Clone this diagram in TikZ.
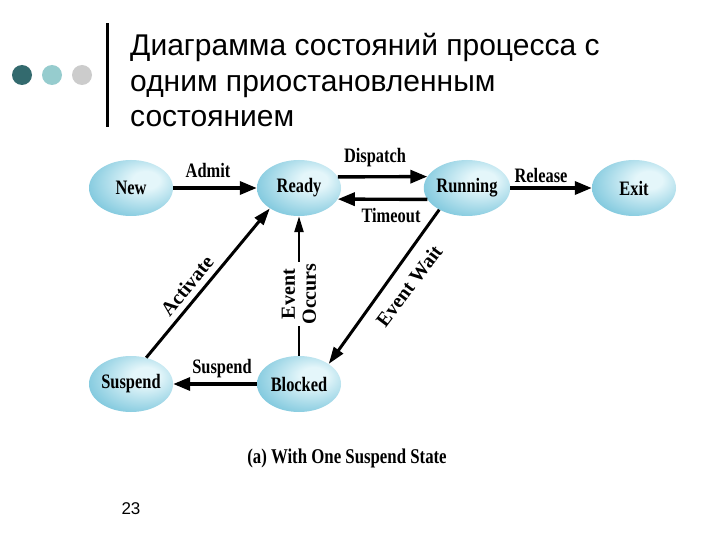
\documentclass[tikz,border=0pt]{standalone}
\usepackage{fontspec}
\newfontfamily\tfont{Liberation Sans}
\newfontfamily\dfont[FakeStretch=0.8]{Liberation Serif}
\newfontfamily\rfont{Liberation Serif}
\usetikzlibrary{arrows.meta,shapes.geometric}
\definecolor{dotA}{RGB}{51,106,110}
\definecolor{dotB}{RGB}{150,204,206}
\definecolor{dotC}{RGB}{204,204,204}
\definecolor{ellin}{RGB}{228,246,250}
\definecolor{ellout}{RGB}{66,172,204}
\pgfdeclareradialshading{ellsh}{\pgfpoint{10bp}{8bp}}{color(0bp)=(ellin); color(8bp)=(ellin); color(48bp)=(ellout); color(70bp)=(ellout)}
\begin{document}
\begin{tikzpicture}[x=1pt,y=-1pt,
  st/.style={ellipse, minimum width=84pt, minimum height=56pt, inner sep=0pt, shading=ellsh,
    font=\dfont\bfseries\fontsize{20.5}{22}\selectfont},
  arr/.style={line width=3.4pt, -{Triangle[length=17pt,width=13pt]}},
  darr/.style={line width=3pt, -{Triangle[length=17pt,width=11pt]}},
  varr/.style={line width=2.4pt, -{Triangle[length=16pt,width=9pt]}},
  lab/.style={font=\dfont\bfseries\fontsize{20.5}{22}\selectfont, inner sep=1pt},
  rlab/.style={font=\rfont\bfseries\fontsize{20}{21}\selectfont, inner sep=1pt},
  ttl/.style={anchor=base west, inner sep=0pt, font=\tfont\fontsize{30}{36}\selectfont}]
\useasboundingbox (0,0) rectangle (720,540);
\fill[white] (0,0) rectangle (720,540);
% decoration
\fill[dotA] (22,75) circle (10pt);
\fill[dotB] (52,75) circle (10pt);
\fill[dotC] (82,75) circle (10pt);
\fill[black] (106,23) rectangle (109,127);
% title
\node[ttl] (t1) at (130,56) {Диаграмма состояний процесса с};
\node[ttl] (t2) at (130,91.5) {одним приостановленным};
\node[ttl] (t3) at (130,127) {состоянием};
% states
\node[st] (new) at (131,188) {New};
\node[st] (ready) at (299,188) {Ready};
\node[st] (run) at (467,188) {Running};
\node[st] (exit) at (634,188) {Exit};
\node[st] (susp) at (131,384) {Suspend};
\node[st] (blk) at (299,384) {Blocked};
% transitions
\draw[arr] (new.east) -- (ready.west);
\draw[arr] (ready.16) -- (run.164);
\draw[arr] (run.196) -- (ready.344);
\draw[arr] (run.east) -- (exit.west);
\draw[darr] (susp.60) -- (ready.215);
\draw[varr] (blk.north) -- (ready.south);
\draw[darr] (run.218) -- (blk.34);
\draw[arr] (blk.west) -- (susp.east);
% labels
\node[lab] (lAdmit) at (208,170) {Admit};
\node[lab] (lDisp) at (375,158) {Dispatch};
\node[lab] (lTime) at (391,216) {Timeout};
\node[lab] (lRel) at (541,175) {Release};
\node[rlab, rotate=51] (lAct) at (187,286) {Activate};
\node[rlab, rotate=90, fill=white, align=center] (lEv) at (299,294) {Event\\Occurs};
\node[rlab, rotate=53] (lWait) at (409,286) {Event Wait};
\node[lab] (lSusp) at (222,369) {Suspend};
% caption and page number
\node[lab, font=\dfont\bfseries\fontsize{21}{24}\selectfont] (cap) at (347,458) {(a) With One Suspend State};
\node[font=\tfont\fontsize{17}{20}\selectfont, inner sep=0pt] (pg) at (131,509) {23};
\end{tikzpicture}
\end{document}
